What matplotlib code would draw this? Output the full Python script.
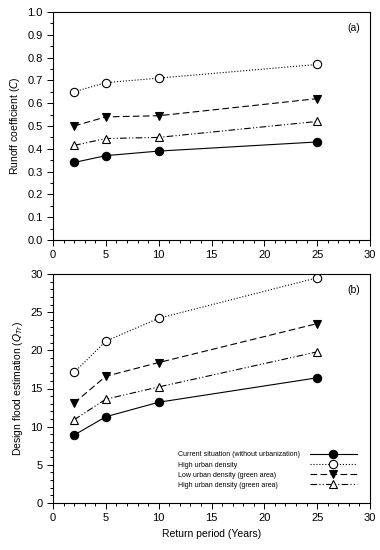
import numpy as np
import matplotlib
matplotlib.use('Agg')
import matplotlib.pyplot as plt
from matplotlib.ticker import MultipleLocator

plt.rcParams['font.family'] = ['Liberation Sans', 'DejaVu Sans']

#Data
years = [2, 5, 10, 25]
labels = ['Current situation (without urbanization)', 'High urban density',
          'Low urban density (green area)', 'High urban density (green area)']
c_current = [0.34, 0.37, 0.39, 0.43]
c_high = [0.65, 0.69, 0.71, 0.77]
c_low_green = [0.50, 0.54, 0.545, 0.62]
c_high_green = [0.415, 0.445, 0.45, 0.52]
q_current = [8.9, 11.3, 13.2, 16.4]
q_high = [17.1, 21.2, 24.2, 29.5]
q_low_green = [13.1, 16.6, 18.4, 23.5]
q_high_green = [10.9, 13.6, 15.2, 19.8]

styles = [dict(ls='-', marker='o', mfc='black'),
          dict(ls=':', marker='o', mfc='white'),
          dict(ls=(0, (6, 3)), marker='v', mfc='black'),
          dict(ls=(0, (6, 2, 1, 2, 1, 2)), marker='^', mfc='white')]

fig = plt.figure(figsize=(3.8, 5.5), dpi=100)
ax1 = fig.add_axes([53/380, 1 - 240/550, 317/380, 228/550])
ax2 = fig.add_axes([53/380, 1 - 503/550, 317/380, 229/550])

for ax, series in [(ax1, [c_current, c_high, c_low_green, c_high_green]),
                   (ax2, [q_current, q_high, q_low_green, q_high_green])]:
    for y, st, lab in zip(series, styles, labels):
        ax.plot(years, y, color='black', lw=0.8, ms=6, mec='black', mew=0.8,
                label=lab, **st)
    ax.set_xlim(0, 30)
    ax.xaxis.set_major_locator(MultipleLocator(5))
    ax.xaxis.set_minor_locator(MultipleLocator(1))
    ax.tick_params(which='both', direction='out', labelsize=8, width=0.7)
    ax.tick_params(which='major', length=4)
    ax.tick_params(which='minor', length=2)
    for s in ax.spines.values():
        s.set_linewidth(0.8)

ax1.set_ylim(0, 1.0)
ax1.yaxis.set_major_locator(MultipleLocator(0.1))
ax1.yaxis.set_minor_locator(MultipleLocator(0.05))
ax1.set_ylabel('Runoff coefficient ($C$)', fontsize=7.5)
ax1.text(0.97, 0.95, '(a)', transform=ax1.transAxes, ha='right', va='top', fontsize=7.5)

ax2.set_ylim(0, 30)
ax2.yaxis.set_major_locator(MultipleLocator(5))
ax2.yaxis.set_minor_locator(MultipleLocator(1))
ax2.set_ylabel('Design flood estimation ($Q_{Tr}$)', fontsize=7.5)
ax2.set_xlabel('Return period (Years)', fontsize=7.5)
ax2.text(0.97, 0.95, '(b)', transform=ax2.transAxes, ha='right', va='top', fontsize=7.5)

# legend: left-aligned labels, handles in a separate column on the right
lines = ax2.get_lines()
leg_kw = dict(frameon=False, fontsize=5, labelspacing=0.45, borderpad=0,
              borderaxespad=0, loc='upper left')
leg_text = ax2.legend(lines, labels, bbox_to_anchor=(0.394, 0.225),
                      handlelength=0, handletextpad=0, **leg_kw)
for h in leg_text.legend_handles:
    h.set_visible(False)
ax2.add_artist(leg_text)
ax2.legend(lines, [' '] * 4, bbox_to_anchor=(0.81, 0.225),
           handlelength=6.8, handletextpad=0, **leg_kw)

fig.savefig('out.png', dpi=100)
